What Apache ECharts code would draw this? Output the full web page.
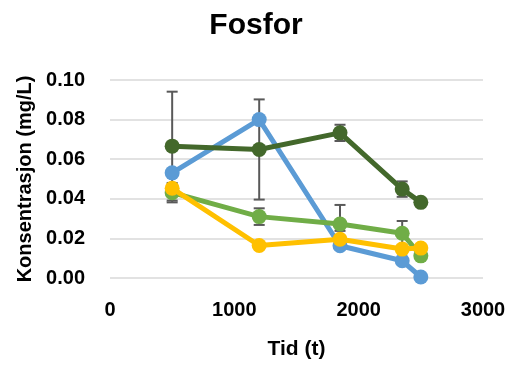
<!DOCTYPE html>
<html>
<head>
<meta charset="utf-8">
<script src="https://cdn.jsdelivr.net/npm/echarts@6/dist/echarts.min.js"></script>
<style>html,body{margin:0;padding:0;background:#fff;}#c{width:512px;height:365px;}</style>
</head>
<body>
<div id="c"></div>
<script>
var times = [500, 1200, 1850, 2350, 2500];
var blue = [0.0531, 0.0800, 0.0163, 0.0087, 0.0005];
var darkGreen = [0.0666, 0.0649, 0.0733, 0.0449, 0.0382];
var lightGreen = [0.0431, 0.0310, 0.0273, 0.0226, 0.0112];
var yellow = [0.0453, 0.0164, 0.0196, 0.0146, 0.0151];
var darkGreenErr = [0.0275, 0.0253, 0.0041, 0.0039, null];
var lightGreenErr = [0.0049, 0.0042, 0.0096, 0.0062, null];
var yellowErr = [null, null, 0.0042, null, null];
var yTicks = [0, 0.02, 0.04, 0.06, 0.08, 0.10];

var FONT = '"Liberation Sans", Arial, sans-serif';

function pairs(vals) {
  return times.map(function (t, i) { return [t, vals[i]]; });
}
function errData(vals, errs) {
  var out = [];
  times.forEach(function (t, i) {
    if (errs[i] != null) out.push([t, vals[i], errs[i]]);
  });
  return out;
}
function errSeries(vals, errs) {
  return {
    type: 'custom',
    z: 1,
    silent: true,
    data: errData(vals, errs),
    renderItem: function (params, api) {
      var x = api.value(0), v = api.value(1), e = api.value(2);
      var top = api.coord([x, v + e]);
      var bot = api.coord([x, v - e]);
      var hw = 5.5;
      var style = { stroke: '#595959', lineWidth: 2, fill: null };
      return {
        type: 'group',
        children: [
          { type: 'line', shape: { x1: top[0], y1: top[1], x2: bot[0], y2: bot[1] }, style: style },
          { type: 'line', shape: { x1: top[0] - hw, y1: top[1], x2: top[0] + hw, y2: top[1] }, style: style },
          { type: 'line', shape: { x1: bot[0] - hw, y1: bot[1], x2: bot[0] + hw, y2: bot[1] }, style: style }
        ]
      };
    }
  };
}
function lineSeries(vals, color, z) {
  return {
    type: 'line',
    z: z,
    data: pairs(vals),
    symbol: 'circle',
    symbolSize: 15,
    lineStyle: { color: color, width: 5 },
    itemStyle: { color: color, borderWidth: 0 },
    animation: false
  };
}

var chart = echarts.init(document.getElementById('c'));
chart.setOption({
  animation: false,
  backgroundColor: '#ffffff',
  title: {
    text: 'Fosfor',
    left: 'center',
    top: 6,
    textStyle: { fontFamily: FONT, fontSize: 30, fontWeight: 'bold', color: '#000' }
  },
  grid: { left: 110, right: 29, top: 80, bottom: 87 },
  xAxis: {
    type: 'value',
    min: 0, max: 3000, interval: 1000,
    name: 'Tid (t)',
    nameLocation: 'middle',
    nameGap: 61,
    nameTextStyle: { fontFamily: FONT, fontSize: 21, fontWeight: 'bold', color: '#000' },
    axisLine: { show: false },
    axisTick: { show: false },
    splitLine: { show: false },
    axisLabel: {
      fontFamily: FONT, fontSize: 20, fontWeight: 'bold', color: '#000', margin: 22,
      formatter: function (v) { return String(v); }
    }
  },
  yAxis: {
    type: 'value',
    min: yTicks[0], max: yTicks[yTicks.length - 1], interval: 0.02,
    name: 'Konsentrasjon (mg/L)',
    nameLocation: 'middle',
    nameGap: 75,
    nameTextStyle: { fontFamily: FONT, fontSize: 20, fontWeight: 'bold', color: '#000' },
    axisLine: { show: false },
    axisTick: { show: false },
    splitLine: { show: true, lineStyle: { color: '#d9d9d9', width: 1.5 } },
    axisLabel: {
      fontFamily: FONT, fontSize: 20, fontWeight: 'bold', color: '#000', margin: 25,
      formatter: function (v) { return v.toFixed(2); }
    }
  },
  series: [
    errSeries(darkGreen, darkGreenErr),
    errSeries(lightGreen, lightGreenErr),
    errSeries(yellow, yellowErr),
    lineSeries(blue, '#5B9BD5', 2),
    lineSeries(darkGreen, '#43682B', 3),
    lineSeries(lightGreen, '#70AD47', 4),
    lineSeries(yellow, '#FFC000', 5)
  ]
});
</script>
</body>
</html>
